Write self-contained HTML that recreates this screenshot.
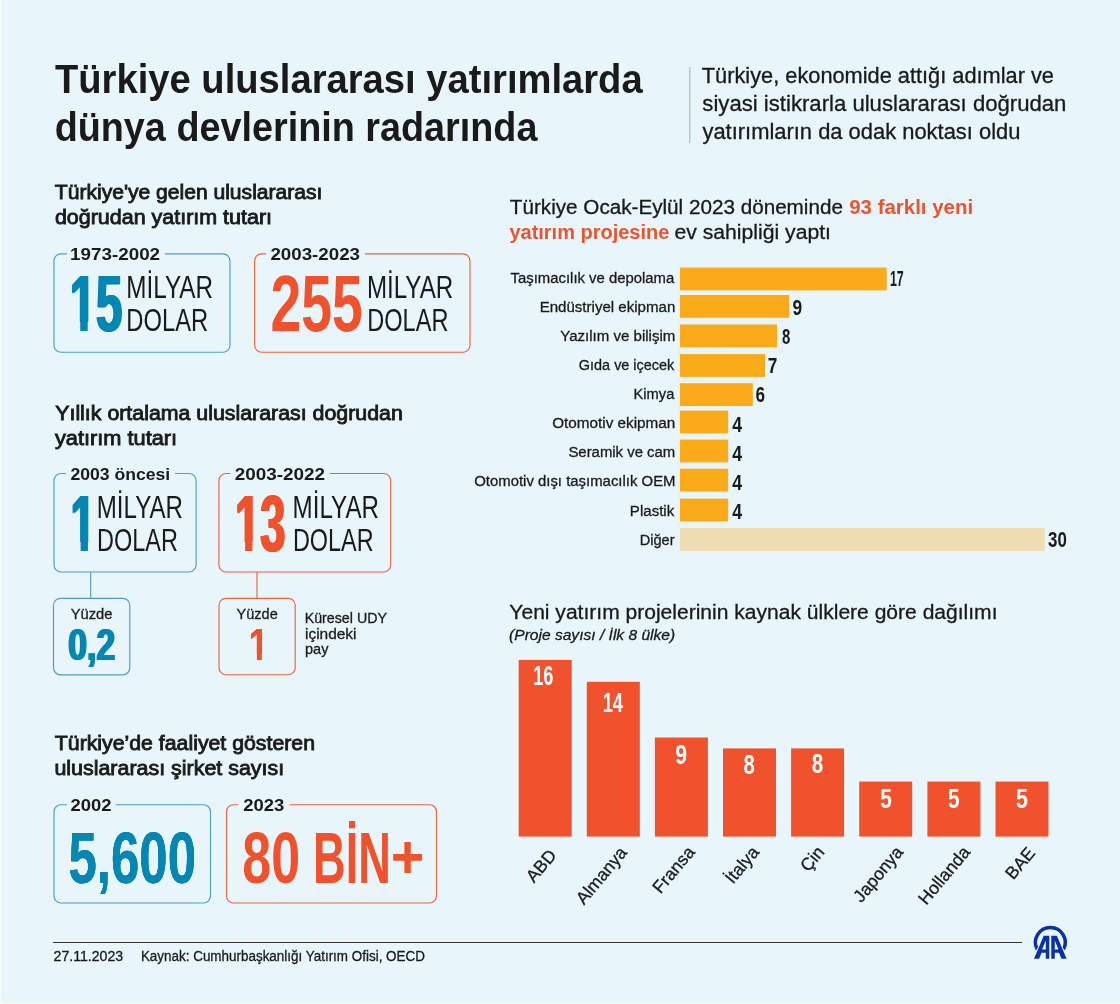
<!DOCTYPE html>
<html lang="tr"><head><meta charset="utf-8"><title>Türkiye uluslararası yatırımlarda dünya devlerinin radarında</title>
<style>
html,body{margin:0;padding:0;background:#e8f5fa;}
body{width:1120px;height:1004px;overflow:hidden;}
svg{display:block;font-family:"Liberation Sans",sans-serif;}
text{white-space:pre;}
</style></head><body>
<svg width="1120" height="1004" viewBox="0 0 1120 1004">
<rect width="1120" height="1004" fill="#e8f5fa"/>
<defs><filter id="hb0_35" x="-10%" y="-10%" width="120%" height="120%" color-interpolation-filters="sRGB"><feOffset in="SourceGraphic" dx="-0.35" result="a"/><feOffset in="SourceGraphic" dx="0.35" result="b"/><feMerge><feMergeNode in="a"/><feMergeNode in="SourceGraphic"/><feMergeNode in="b"/></feMerge></filter><filter id="hb0_4" x="-10%" y="-10%" width="120%" height="120%" color-interpolation-filters="sRGB"><feOffset in="SourceGraphic" dx="-0.4" result="a"/><feOffset in="SourceGraphic" dx="0.4" result="b"/><feMerge><feMergeNode in="a"/><feMergeNode in="SourceGraphic"/><feMergeNode in="b"/></feMerge></filter><filter id="hb0_8" x="-10%" y="-10%" width="120%" height="120%" color-interpolation-filters="sRGB"><feOffset in="SourceGraphic" dx="-0.8" result="a"/><feOffset in="SourceGraphic" dx="0.8" result="b"/><feMerge><feMergeNode in="a"/><feMergeNode in="SourceGraphic"/><feMergeNode in="b"/></feMerge></filter><filter id="hb0_85" x="-10%" y="-10%" width="120%" height="120%" color-interpolation-filters="sRGB"><feOffset in="SourceGraphic" dx="-0.85" result="a"/><feOffset in="SourceGraphic" dx="0.85" result="b"/><feMerge><feMergeNode in="a"/><feMergeNode in="SourceGraphic"/><feMergeNode in="b"/></feMerge></filter><filter id="hb0_9" x="-10%" y="-10%" width="120%" height="120%" color-interpolation-filters="sRGB"><feOffset in="SourceGraphic" dx="-0.9" result="a"/><feOffset in="SourceGraphic" dx="0.9" result="b"/><feMerge><feMergeNode in="a"/><feMergeNode in="SourceGraphic"/><feMergeNode in="b"/></feMerge></filter><clipPath id="nf0"><rect x="49.66" y="251.30" width="400" height="70.70"/><rect x="80.22" y="320.64" width="7.50" height="12.16"/><rect x="96.01" y="320.64" width="400" height="32.00"/></clipPath><clipPath id="nf1"><rect x="50.60" y="471.10" width="400" height="70.90"/><rect x="80.63" y="540.44" width="7.32" height="12.16"/></clipPath><clipPath id="nf2"><rect x="215.11" y="471.10" width="400" height="70.90"/><rect x="245.12" y="540.44" width="7.31" height="12.16"/><rect x="260.27" y="540.44" width="400" height="32.00"/></clipPath><clipPath id="nf3"><rect x="228.75" y="616.00" width="400" height="38.00"/><rect x="256.94" y="652.65" width="4.81" height="8.45"/></clipPath></defs>
<rect x="0" y="0" width="1" height="1004" fill="#f6fbfb"/>
<rect x="0" y="1003" width="1120" height="1" fill="#f8fcfd"/>
<line x1="689.8" y1="67" x2="689.8" y2="143" stroke="#b4bcc0" stroke-width="1.2"/>
<path d="M165,253.8 H223 A7,7 0 0 1 230,260.8 V345.2 A7,7 0 0 1 223,352.2 H61 A7,7 0 0 1 54,345.2 V260.8 A7,7 0 0 1 61,253.8 H66.8" fill="none" stroke="#4f9fbf" stroke-width="1.15"/>
<path d="M365,253.8 H463 A7,7 0 0 1 470,260.8 V345.2 A7,7 0 0 1 463,352.2 H261.6 A7,7 0 0 1 254.6,345.2 V260.8 A7,7 0 0 1 261.6,253.8 H266" fill="none" stroke="#f0623f" stroke-width="1.15"/>
<path d="M175,473.5 H189.1 A7,7 0 0 1 196.1,480.5 V565 A7,7 0 0 1 189.1,572 H61 A7,7 0 0 1 54,565 V480.5 A7,7 0 0 1 61,473.5 H66" fill="none" stroke="#4f9fbf" stroke-width="1.15"/>
<path d="M329.6,473.5 H383.7 A7,7 0 0 1 390.7,480.5 V565 A7,7 0 0 1 383.7,572 H225.9 A7,7 0 0 1 218.9,565 V480.5 A7,7 0 0 1 225.9,473.5 H230.4" fill="none" stroke="#f0623f" stroke-width="1.15"/>
<line x1="90.7" y1="572" x2="90.7" y2="598.6" stroke="#4f9fbf" stroke-width="1.15"/>
<line x1="257" y1="572" x2="257" y2="598.6" stroke="#f0623f" stroke-width="1.15"/>
<rect x="53.5" y="598.4" width="76.30000000000001" height="76.39999999999998" rx="7" fill="none" stroke="#4f9fbf" stroke-width="1.15"/>
<rect x="219" y="598.4" width="76.19999999999999" height="76.30000000000007" rx="7" fill="none" stroke="#f0623f" stroke-width="1.15"/>
<path d="M115.7,804.7 H203.5 A7,7 0 0 1 210.5,811.7 V896 A7,7 0 0 1 203.5,903 H61 A7,7 0 0 1 54,896 V811.7 A7,7 0 0 1 61,804.7 H66.9" fill="none" stroke="#4f9fbf" stroke-width="1.15"/>
<path d="M289.7,804.7 H429.5 A7,7 0 0 1 436.5,811.7 V896 A7,7 0 0 1 429.5,903 H233.5 A7,7 0 0 1 226.5,896 V811.7 A7,7 0 0 1 233.5,804.7 H238.3" fill="none" stroke="#f0623f" stroke-width="1.15"/>
<line x1="53" y1="942.5" x2="1022" y2="942.5" stroke="#333" stroke-width="1.2"/>
<rect x="679.9" y="267.60" width="206.8" height="22.8" fill="#fbaa19"/>
<rect x="679.9" y="295.00" width="109.3" height="22.8" fill="#fbaa19"/>
<rect x="679.9" y="324.50" width="97.2" height="22.8" fill="#fbaa19"/>
<rect x="679.9" y="354.10" width="85.1" height="22.8" fill="#fbaa19"/>
<rect x="679.9" y="383.20" width="72.9" height="22.8" fill="#fbaa19"/>
<rect x="679.9" y="410.60" width="48.3" height="22.8" fill="#fbaa19"/>
<rect x="679.9" y="439.60" width="48.3" height="22.8" fill="#fbaa19"/>
<rect x="679.9" y="468.70" width="48.3" height="22.8" fill="#fbaa19"/>
<rect x="679.9" y="498.65" width="48.3" height="22.8" fill="#fbaa19"/>
<rect x="679.9" y="528.10" width="364.9" height="22.8" fill="#eedcb2"/>
<rect x="518.7" y="659.9" width="53" height="176.7" fill="#ef522c"/>
<rect x="586.8" y="681.8" width="53" height="154.8" fill="#ef522c"/>
<rect x="654.9" y="737.5" width="53" height="99.1" fill="#ef522c"/>
<rect x="723.0" y="748.4" width="53" height="88.2" fill="#ef522c"/>
<rect x="791.1" y="748.4" width="53" height="88.2" fill="#ef522c"/>
<rect x="859.2" y="781.6" width="53" height="55.0" fill="#ef522c"/>
<rect x="927.4" y="781.6" width="53" height="55.0" fill="#ef522c"/>
<rect x="995.5" y="781.6" width="53" height="55.0" fill="#ef522c"/>
<text transform="translate(557.3,855.7) rotate(-50)" text-anchor="end" font-size="17.6" fill="#1a1a1a" stroke="#1a1a1a" stroke-width="0.3">ABD</text>
<text transform="translate(627.9,853.0) rotate(-50)" text-anchor="end" font-size="17.6" fill="#1a1a1a" stroke="#1a1a1a" stroke-width="0.3">Almanya</text>
<text transform="translate(695.7,852.6) rotate(-50)" text-anchor="end" font-size="17.6" fill="#1a1a1a" stroke="#1a1a1a" stroke-width="0.3">Fransa</text>
<text transform="translate(760.0,852.6) rotate(-50)" text-anchor="end" font-size="17.6" fill="#1a1a1a" stroke="#1a1a1a" stroke-width="0.3">İtalya</text>
<text transform="translate(825.3,852.6) rotate(-50)" text-anchor="end" font-size="17.6" fill="#1a1a1a" stroke="#1a1a1a" stroke-width="0.3">Çin</text>
<text transform="translate(904.0,852.6) rotate(-50)" text-anchor="end" font-size="17.6" fill="#1a1a1a" stroke="#1a1a1a" stroke-width="0.3">Japonya</text>
<text transform="translate(971.0,852.6) rotate(-50)" text-anchor="end" font-size="17.6" fill="#1a1a1a" stroke="#1a1a1a" stroke-width="0.3">Hollanda</text>
<text transform="translate(1036.0,853.4) rotate(-50)" text-anchor="end" font-size="17.6" fill="#1a1a1a" stroke="#1a1a1a" stroke-width="0.3">BAE</text>
<text x="54.97" y="93.3" font-size="40.5" font-weight="700" fill="#1a1a1a" textLength="587.69" lengthAdjust="spacingAndGlyphs">Türkiye uluslararası yatırımlarda</text>
<text x="54.65" y="140.7" font-size="40.5" font-weight="700" fill="#1a1a1a" textLength="482.81" lengthAdjust="spacingAndGlyphs">dünya devlerinin radarında</text>
<text x="701.81" y="83.3" font-size="21.3" font-weight="400" fill="#1a1a1a" stroke="#1a1a1a" stroke-width="0.3" textLength="352.16" lengthAdjust="spacingAndGlyphs">Türkiye, ekonomide attığı adımlar ve</text>
<text x="702.38" y="111.3" font-size="21.3" font-weight="400" fill="#1a1a1a" stroke="#1a1a1a" stroke-width="0.3" textLength="364.05" lengthAdjust="spacingAndGlyphs">siyasi istikrarla uluslararası doğrudan</text>
<text x="702.45" y="139" font-size="21.3" font-weight="400" fill="#1a1a1a" stroke="#1a1a1a" stroke-width="0.3" textLength="318.01" lengthAdjust="spacingAndGlyphs">yatırımların da odak noktası oldu</text>
<text x="54.83" y="199.3" font-size="20.3" font-weight="400" fill="#1a1a1a" stroke="#1a1a1a" stroke-width="0.85" textLength="267.58" lengthAdjust="spacingAndGlyphs">Türkiye&#x27;ye gelen uluslararası</text>
<text x="54.90" y="224.3" font-size="20.3" font-weight="400" fill="#1a1a1a" stroke="#1a1a1a" stroke-width="0.85" textLength="217.15" lengthAdjust="spacingAndGlyphs">doğrudan yatırım tutarı</text>
<text x="70.12" y="260.3" font-size="16" font-weight="700" fill="#1a1a1a" textLength="89.94" lengthAdjust="spacingAndGlyphs">1973-2002</text>
<text x="69.66" y="331.3" font-size="80" font-weight="700" fill="#0686b2" filter="url(#hb0_85)" textLength="52.71" lengthAdjust="spacingAndGlyphs" clip-path="url(#nf0)">15</text>
<text x="126.31" y="298.3" font-size="30.6" font-weight="400" fill="#1a1a1a" textLength="86.72" lengthAdjust="spacingAndGlyphs">MİLYAR</text>
<text x="126.35" y="331.1" font-size="30.6" font-weight="400" fill="#1a1a1a" textLength="81.85" lengthAdjust="spacingAndGlyphs">DOLAR</text>
<text x="270.45" y="260.3" font-size="16" font-weight="700" fill="#1a1a1a" textLength="89.53" lengthAdjust="spacingAndGlyphs">2003-2023</text>
<text x="270.38" y="331.3" font-size="80" font-weight="700" fill="#ef522c" textLength="92.46" lengthAdjust="spacingAndGlyphs">255</text>
<text x="366.92" y="298.3" font-size="30.6" font-weight="400" fill="#1a1a1a" textLength="86.30" lengthAdjust="spacingAndGlyphs">MİLYAR</text>
<text x="367.27" y="331.3" font-size="30.6" font-weight="400" fill="#1a1a1a" textLength="81.12" lengthAdjust="spacingAndGlyphs">DOLAR</text>
<text x="55.23" y="420" font-size="20.3" font-weight="400" fill="#1a1a1a" stroke="#1a1a1a" stroke-width="0.85" textLength="347.56" lengthAdjust="spacingAndGlyphs">Yıllık ortalama uluslararası doğrudan</text>
<text x="54.95" y="445.3" font-size="20.3" font-weight="400" fill="#1a1a1a" stroke="#1a1a1a" stroke-width="0.85" textLength="122.23" lengthAdjust="spacingAndGlyphs">yatırım tutarı</text>
<text x="70.49" y="480.3" font-size="16" font-weight="700" fill="#1a1a1a" textLength="99.76" lengthAdjust="spacingAndGlyphs">2003 öncesi</text>
<text x="70.60" y="551.1" font-size="80" font-weight="700" fill="#0686b2" filter="url(#hb0_9)" textLength="25.21" lengthAdjust="spacingAndGlyphs" clip-path="url(#nf1)">1</text>
<text x="96.72" y="518.2" font-size="30.6" font-weight="400" fill="#1a1a1a" textLength="86.30" lengthAdjust="spacingAndGlyphs">MİLYAR</text>
<text x="97.07" y="551.2" font-size="30.6" font-weight="400" fill="#1a1a1a" textLength="80.92" lengthAdjust="spacingAndGlyphs">DOLAR</text>
<text x="234.75" y="480.3" font-size="16" font-weight="700" fill="#1a1a1a" textLength="90.31" lengthAdjust="spacingAndGlyphs">2003-2022</text>
<text x="235.11" y="551.1" font-size="80" font-weight="700" fill="#ef522c" filter="url(#hb0_9)" textLength="50.33" lengthAdjust="spacingAndGlyphs" clip-path="url(#nf2)">13</text>
<text x="292.62" y="518.3" font-size="30.6" font-weight="400" fill="#1a1a1a" textLength="86.40" lengthAdjust="spacingAndGlyphs">MİLYAR</text>
<text x="292.88" y="551.2" font-size="30.6" font-weight="400" fill="#1a1a1a" textLength="80.71" lengthAdjust="spacingAndGlyphs">DOLAR</text>
<text x="70.68" y="618.5" font-size="14.8" font-weight="400" fill="#1a1a1a" stroke="#1a1a1a" stroke-width="0.3" textLength="41.78" lengthAdjust="spacingAndGlyphs">Yüzde</text>
<text x="68.37" y="659.6" font-size="43.6" font-weight="700" fill="#0686b2" filter="url(#hb0_8)" textLength="46.78" lengthAdjust="spacingAndGlyphs">0,2</text>
<text x="236.58" y="618.5" font-size="14.8" font-weight="400" fill="#1a1a1a" stroke="#1a1a1a" stroke-width="0.3" textLength="41.16" lengthAdjust="spacingAndGlyphs">Yüzde</text>
<text x="248.75" y="659.6" font-size="43.6" font-weight="700" fill="#ef522c" filter="url(#hb0_35)" textLength="19.50" lengthAdjust="spacingAndGlyphs" clip-path="url(#nf3)">1</text>
<text x="304.63" y="623.4" font-size="14.8" font-weight="400" fill="#1a1a1a" stroke="#1a1a1a" stroke-width="0.3" textLength="82.38" lengthAdjust="spacingAndGlyphs">Küresel UDY</text>
<text x="304.97" y="638.9" font-size="14.8" font-weight="400" fill="#1a1a1a" stroke="#1a1a1a" stroke-width="0.3" textLength="51.58" lengthAdjust="spacingAndGlyphs">içindeki</text>
<text x="305.07" y="654.4" font-size="14.8" font-weight="400" fill="#1a1a1a" stroke="#1a1a1a" stroke-width="0.3" textLength="23.36" lengthAdjust="spacingAndGlyphs">pay</text>
<text x="54.82" y="750" font-size="20.3" font-weight="400" fill="#1a1a1a" stroke="#1a1a1a" stroke-width="0.85" textLength="260.16" lengthAdjust="spacingAndGlyphs">Türkiye’de faaliyet gösteren</text>
<text x="54.41" y="775.3" font-size="20.3" font-weight="400" fill="#1a1a1a" stroke="#1a1a1a" stroke-width="0.85" textLength="229.73" lengthAdjust="spacingAndGlyphs">uluslararası şirket sayısı</text>
<text x="70.46" y="811.3" font-size="16" font-weight="700" fill="#1a1a1a" textLength="40.98" lengthAdjust="spacingAndGlyphs">2002</text>
<text x="68.43" y="882.6" font-size="73" font-weight="700" fill="#0686b2" filter="url(#hb0_4)" textLength="127.56" lengthAdjust="spacingAndGlyphs">5,600</text>
<text x="243.26" y="811.3" font-size="16" font-weight="700" fill="#1a1a1a" textLength="41.01" lengthAdjust="spacingAndGlyphs">2023</text>
<text><tspan x="242.25" y="882.6" font-size="73" font-weight="700" fill="#ef522c" textLength="57.78" lengthAdjust="spacingAndGlyphs">80</tspan> <tspan x="313.08" y="882.6" font-size="73" font-weight="700" fill="#ef522c" textLength="77.87" lengthAdjust="spacingAndGlyphs">BİN</tspan><tspan x="390.78" y="878.3" font-size="61" font-weight="700" fill="#ef522c" textLength="33.66" lengthAdjust="spacingAndGlyphs">+</tspan></text>
<text x="53.59" y="961.4" font-size="13.8" font-weight="400" fill="#1a1a1a" stroke="#1a1a1a" stroke-width="0.3" textLength="69.53" lengthAdjust="spacingAndGlyphs">27.11.2023</text>
<text x="140.90" y="961.4" font-size="13.8" font-weight="400" fill="#1a1a1a" stroke="#1a1a1a" stroke-width="0.3" textLength="284.05" lengthAdjust="spacingAndGlyphs">Kaynak: Cumhurbaşkanlığı Yatırım Ofisi, OECD</text>
<text><tspan x="509.84" y="213.5" font-size="20" font-weight="400" fill="#1a1a1a" stroke="#1a1a1a" stroke-width="0.3" textLength="333.08" lengthAdjust="spacingAndGlyphs">Türkiye Ocak-Eylül 2023 döneminde</tspan> <tspan x="849.19" y="213.5" font-size="20" font-weight="700" fill="#ef522c" textLength="123.96" lengthAdjust="spacingAndGlyphs">93 farklı yeni</tspan> <tspan x="509.44" y="238.6" font-size="20" font-weight="700" fill="#ef522c" textLength="159.84" lengthAdjust="spacingAndGlyphs">yatırım projesine</tspan> <tspan x="674.40" y="238.6" font-size="20" font-weight="400" fill="#1a1a1a" stroke="#1a1a1a" stroke-width="0.3" textLength="156.62" lengthAdjust="spacingAndGlyphs">ev sahipliği yaptı</tspan></text>
<text x="510.57" y="283.1" font-size="15.3" font-weight="400" fill="#1a1a1a" stroke="#1a1a1a" stroke-width="0.3" textLength="163.73" lengthAdjust="spacingAndGlyphs">Taşımacılık ve depolama</text>
<text x="889.92" y="286.0" font-size="22.2" font-weight="700" fill="#1a1a1a" textLength="13.83" lengthAdjust="spacingAndGlyphs">17</text>
<text x="539.66" y="312.15" font-size="15.3" font-weight="400" fill="#1a1a1a" stroke="#1a1a1a" stroke-width="0.3" textLength="135.61" lengthAdjust="spacingAndGlyphs">Endüstriyel ekipman</text>
<text x="792.50" y="314.7" font-size="22.2" font-weight="700" fill="#1a1a1a" textLength="9.65" lengthAdjust="spacingAndGlyphs">9</text>
<text x="560.27" y="341.2" font-size="15.3" font-weight="400" fill="#1a1a1a" stroke="#1a1a1a" stroke-width="0.3" textLength="115.02" lengthAdjust="spacingAndGlyphs">Yazılım ve bilişim</text>
<text x="782.02" y="343.9" font-size="22.2" font-weight="700" fill="#1a1a1a" textLength="8.34" lengthAdjust="spacingAndGlyphs">8</text>
<text x="578.87" y="370.25" font-size="15.3" font-weight="400" fill="#1a1a1a" stroke="#1a1a1a" stroke-width="0.3" textLength="95.40" lengthAdjust="spacingAndGlyphs">Gıda ve içecek</text>
<text x="767.86" y="373.4" font-size="22.2" font-weight="700" fill="#1a1a1a" textLength="9.60" lengthAdjust="spacingAndGlyphs">7</text>
<text x="633.60" y="399.3" font-size="15.3" font-weight="400" fill="#1a1a1a" stroke="#1a1a1a" stroke-width="0.3" textLength="40.70" lengthAdjust="spacingAndGlyphs">Kimya</text>
<text x="755.57" y="402.2" font-size="22.2" font-weight="700" fill="#1a1a1a" textLength="9.55" lengthAdjust="spacingAndGlyphs">6</text>
<text x="552.18" y="428.35" font-size="15.3" font-weight="400" fill="#1a1a1a" stroke="#1a1a1a" stroke-width="0.3" textLength="123.12" lengthAdjust="spacingAndGlyphs">Otomotiv ekipman</text>
<text x="732.33" y="431.9" font-size="22.2" font-weight="700" fill="#1a1a1a" textLength="9.86" lengthAdjust="spacingAndGlyphs">4</text>
<text x="568.42" y="457.4" font-size="15.3" font-weight="400" fill="#1a1a1a" stroke="#1a1a1a" stroke-width="0.3" textLength="106.86" lengthAdjust="spacingAndGlyphs">Seramik ve cam</text>
<text x="732.33" y="460.9" font-size="22.2" font-weight="700" fill="#1a1a1a" textLength="9.86" lengthAdjust="spacingAndGlyphs">4</text>
<text x="474.19" y="486.45" font-size="15.3" font-weight="400" fill="#1a1a1a" stroke="#1a1a1a" stroke-width="0.3" textLength="201.33" lengthAdjust="spacingAndGlyphs">Otomotiv dışı taşımacılık OEM</text>
<text x="732.33" y="490.0" font-size="22.2" font-weight="700" fill="#1a1a1a" textLength="9.86" lengthAdjust="spacingAndGlyphs">4</text>
<text x="629.86" y="515.5" font-size="15.3" font-weight="400" fill="#1a1a1a" stroke="#1a1a1a" stroke-width="0.3" textLength="44.41" lengthAdjust="spacingAndGlyphs">Plastik</text>
<text x="732.33" y="518.6" font-size="22.2" font-weight="700" fill="#1a1a1a" textLength="9.86" lengthAdjust="spacingAndGlyphs">4</text>
<text x="639.70" y="544.55" font-size="15.3" font-weight="400" fill="#1a1a1a" stroke="#1a1a1a" stroke-width="0.3" textLength="34.84" lengthAdjust="spacingAndGlyphs">Diğer</text>
<text x="1048.11" y="546.6" font-size="22.2" font-weight="700" fill="#1a1a1a" textLength="18.78" lengthAdjust="spacingAndGlyphs">30</text>
<text x="509.34" y="618.6" font-size="20" font-weight="400" fill="#1a1a1a" stroke="#1a1a1a" stroke-width="0.3" textLength="488.17" lengthAdjust="spacingAndGlyphs">Yeni yatırım projelerinin kaynak ülklere göre dağılımı</text>
<text x="509.07" y="639.7" font-size="14.8" font-weight="400" fill="#1a1a1a" font-style="italic" stroke="#1a1a1a" stroke-width="0.3" textLength="166.16" lengthAdjust="spacingAndGlyphs">(Proje sayısı / İlk 8 ülke)</text>
<text x="533.16" y="685.4" font-size="28" font-weight="700" fill="#fff" textLength="20.20" lengthAdjust="spacingAndGlyphs">16</text>
<text x="602.75" y="712.1" font-size="28" font-weight="700" fill="#fff" textLength="20.24" lengthAdjust="spacingAndGlyphs">14</text>
<text x="675.16" y="763.7" font-size="28" font-weight="700" fill="#fff" textLength="11.88" lengthAdjust="spacingAndGlyphs">9</text>
<text x="743.46" y="773.9" font-size="28" font-weight="700" fill="#fff" textLength="11.27" lengthAdjust="spacingAndGlyphs">8</text>
<text x="811.84" y="773.4" font-size="28" font-weight="700" fill="#fff" textLength="11.49" lengthAdjust="spacingAndGlyphs">8</text>
<text x="880.26" y="807.7" font-size="28" font-weight="700" fill="#fff" textLength="11.57" lengthAdjust="spacingAndGlyphs">5</text>
<text x="948.11" y="807.7" font-size="28" font-weight="700" fill="#fff" textLength="11.57" lengthAdjust="spacingAndGlyphs">5</text>
<text x="1015.94" y="807.7" font-size="28" font-weight="700" fill="#fff" textLength="11.96" lengthAdjust="spacingAndGlyphs">5</text>
<g><path d="M1037.2,949.4 A14.9,14.9 0 1 1 1063.5,949.4" fill="none" stroke="#f3fafd" stroke-width="5.5"/><path d="M1037.2,949.4 A14.9,14.9 0 1 1 1063.5,949.4" fill="none" stroke="#0a32a0" stroke-width="3.5"/><g stroke="#e8f5fa" stroke-width="2" fill="#e8f5fa"><path d="M1034,958.8 L1043.7,935.7 H1049.3 V958.8 H1045.8 V952.8 H1041.6 L1039.1,958.8 Z"/><path d="M1066.6,958.8 L1056.9,935.7 H1051.3 V958.8 H1054.8 V952.8 H1059 L1061.5,958.8 Z"/></g><path fill-rule="evenodd" fill="#0a32a0" d="M1034,958.8 L1043.7,935.7 H1049.3 V958.8 H1045.8 V952.8 H1041.6 L1039.1,958.8 Z M1045.8,940.4 V949.5 H1042.1 Z"/><path fill-rule="evenodd" fill="#0a32a0" d="M1066.6,958.8 L1056.9,935.7 H1051.3 V958.8 H1054.8 V952.8 H1059 L1061.5,958.8 Z M1054.8,940.4 V949.5 H1058.5 Z"/></g>
</svg>
</body></html>
